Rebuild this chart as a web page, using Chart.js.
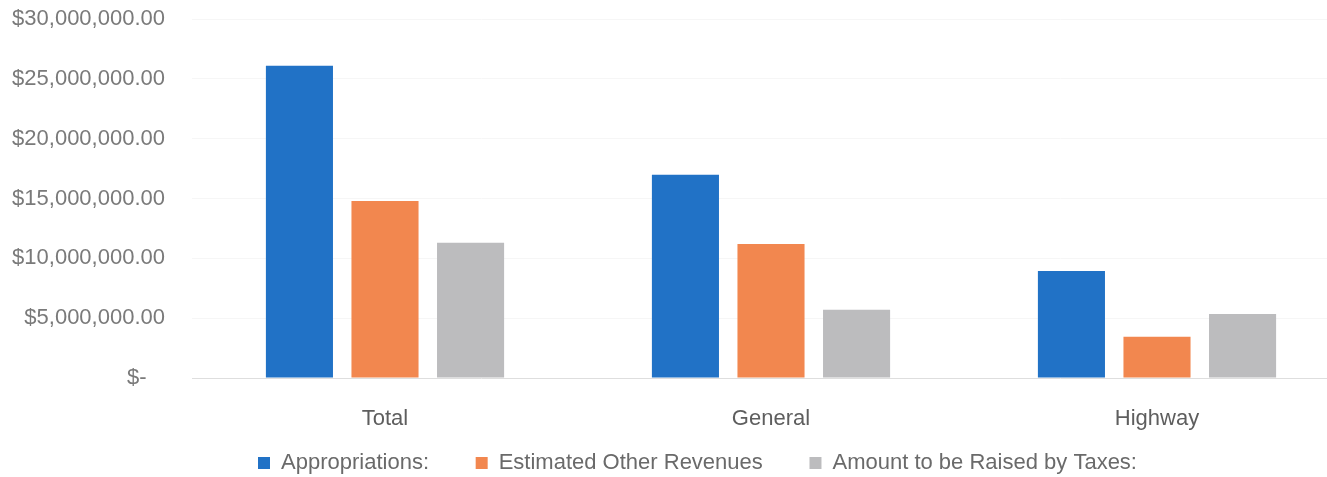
<!DOCTYPE html>
<html>
<head>
<meta charset="utf-8">
<script src="https://cdn.jsdelivr.net/npm/chart.js@4/dist/chart.umd.min.js"></script>
<style>
html,body{margin:0;padding:0;background:#fff;overflow:hidden;width:1327px;height:477px;}
canvas{display:block;}
</style>
</head>
<body>
<canvas id="c" width="1395" height="484" style="width:1395px;height:484px"></canvas>
<script>
const categories = ["Total", "General", "Highway"];
const seriesNames = ["Appropriations:", "Estimated Other Revenues", "Amount to be Raised by Taxes:"];
const appropriations = [26100000, 16980000, 8950000];
const otherRevenues = [14800000, 11200000, 3450000];
const raisedByTaxes = [11300000, 5700000, 5350000];
const yTicks = [0, 5000000, 10000000, 15000000, 20000000, 25000000, 30000000];

const colors = ["#2172C6", "#F2874F", "#BCBCBE"];
const FONT = "'Liberation Sans', Arial, sans-serif";

function fmt(v){
  if (v === 0) return "$-   ";
  return "$" + v.toLocaleString("en-US",{minimumFractionDigits:2, maximumFractionDigits:2});
}

// centre the legend on the full canvas width rather than the padded box
const legendShift = {
  id: "legendShift",
  afterLayout(chart) {
    const lg = chart.legend;
    if (lg) { lg.left += 45; }
  }
};

new Chart(document.getElementById("c"), {
  type: "bar",
  data: {
    labels: categories,
    datasets: [
      {label: seriesNames[0], data: appropriations, backgroundColor: colors[0]},
      {label: seriesNames[1], data: otherRevenues, backgroundColor: colors[1]},
      {label: seriesNames[2], data: raisedByTaxes, backgroundColor: colors[2]}
    ]
  },
  plugins: [legendShift],
  options: {
    responsive: false,
    animation: false,
    devicePixelRatio: 1,
    categoryPercentage: 0.665,
    barPercentage: 0.784,
    layout: {padding: {top: 19, right: 45, left: 0, bottom: 0}},
    plugins: {
      tooltip: {enabled: false},
      legend: {
        position: "bottom",
        labels: {
          boxWidth: 12, boxHeight: 12, padding: 10,
          color: "#6a6a6a",
          font: {family: FONT, size: 22},
          generateLabels: chart => {
            const items = Chart.defaults.plugins.legend.labels.generateLabels(chart);
            items.forEach((it, i) => { if (i < items.length - 1) it.text = it.text + "      "; });
            return items;
          }
        }
      }
    },
    scales: {
      x: {
        grid: {display: false},
        border: {display: false},
        ticks: {color: "#5e5e5e", padding: 20, font: {family: FONT, size: 22}},
        afterFit: s => { s.height = 64; }
      },
      y: {
        min: 0, max: 30000000,
        afterBuildTicks: s => { s.ticks = yTicks.map(v => ({value: v})); },
        afterFit: s => { s.width = 192; s.paddingTop = 10; s.paddingBottom = 10; },
        border: {display: false},
        grid: {
          drawTicks: false,
          color: ctx => ctx.tick && ctx.tick.value === 0 ? "#dedede" : "#f6f6f6",
          lineWidth: 1
        },
        ticks: {
          color: "#7a7a7a", padding: 27,
          font: {family: FONT, size: 22},
          callback: v => fmt(v)
        }
      }
    }
  }
});
</script>
</body>
</html>
